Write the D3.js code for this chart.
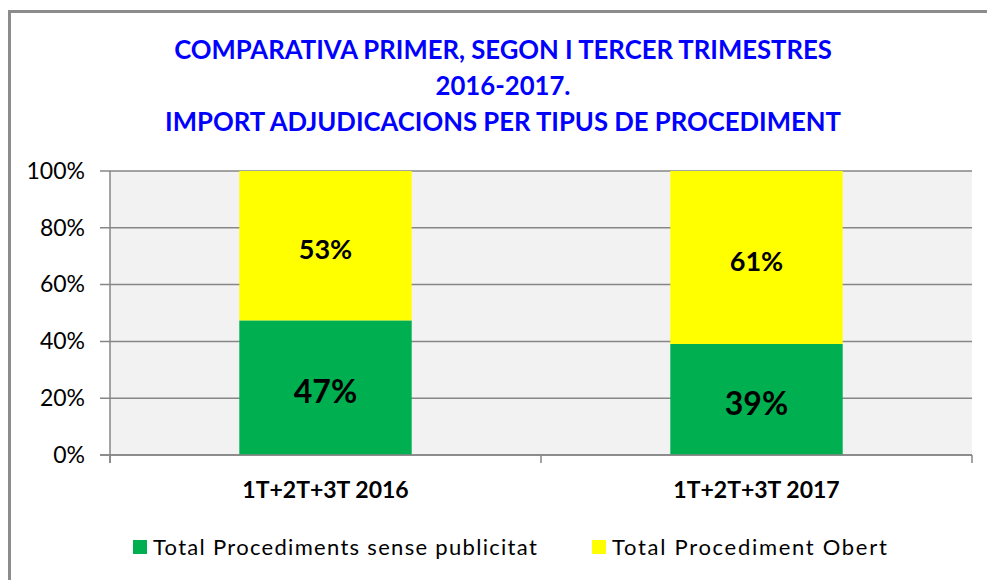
<!DOCTYPE html>
<html>
<head>
<meta charset="utf-8">
<script src="https://cdn.jsdelivr.net/npm/d3@7"></script>
<style>
  body { margin: 0; background: #fff; }
  svg { display: block; font-family: Lato, "Open Sans", sans-serif; }
</style>
</head>
<body>
<svg id="chart" width="987" height="580"></svg>
<script>
// data
const categories = ['1T+2T+3T 2016', '1T+2T+3T 2017']
const seriesNames = ['Total Procediments sense publicitat', 'Total Procediment Obert']
const sensePublicitat = [0.474, 0.391]
const obert = [0.526, 0.609]
const yTicks = [0, 0.2, 0.4, 0.6, 0.8, 1]
const titleLines = [
  'COMPARATIVA PRIMER, SEGON I TERCER TRIMESTRES',
  '2016-2017.',
  'IMPORT ADJUDICACIONS PER TIPUS DE PROCEDIMENT'
]

const colors = ['#00b050', '#ffff00']
const gridColor = '#868686'

const svg = d3.select('#chart')
const margin = { left: 110, right: 15, top: 171, bottom: 125 }
const width = 987 - margin.left - margin.right
const height = 580 - margin.top - margin.bottom

// outer chart frame (cropped at right and bottom)
svg.append('rect')
  .attr('x', 9.5).attr('y', 11.5)
  .attr('width', 1100).attr('height', 700)
  .attr('fill', 'none')
  .attr('stroke', '#8c8c8c')
  .attr('stroke-width', 3)

// title
svg.append('g')
  .selectAll('text')
  .data(titleLines)
  .join('text')
  .attr('x', 503)
  .attr('y', (d, i) => 59 + i * 36)
  .attr('text-anchor', 'middle')
  .attr('fill', '#0000ff')
  .attr('font-weight', 'bold')
  .attr('font-size', 25.7)
  .text(d => d)

const g = svg.append('g').attr('transform', `translate(${margin.left},${margin.top})`)

const x = d3.scaleBand().domain(categories).range([0, width]).paddingInner(0.6).paddingOuter(0.3)
const xOuter = d3.scaleBand().domain(categories).range([0, width])
const y = d3.scaleLinear().domain([0, 1]).range([height, 0])

g.append('rect')
  .attr('width', width).attr('height', height)
  .attr('fill', '#f2f2f2')

// gridlines
g.append('g')
  .selectAll('line')
  .data(yTicks)
  .join('line')
  .attr('x1', -10).attr('x2', width)
  .attr('y1', d => y(d)).attr('y2', d => y(d))
  .attr('stroke', gridColor)
  .attr('stroke-width', 1.5)

// stacked bars
const rows = categories.map((c, i) => ({ cat: c, a: sensePublicitat[i], b: obert[i] }))
const stacked = d3.stack().keys(['a', 'b'])(rows)

const layers = g.append('g')
  .selectAll('g')
  .data(stacked)
  .join('g')
  .attr('fill', (d, i) => colors[i])

layers.selectAll('rect')
  .data(d => d)
  .join('rect')
  .attr('x', d => x(d.data.cat))
  .attr('width', x.bandwidth())
  .attr('y', d => y(d[1]))
  .attr('height', d => y(d[0]) - y(d[1]))

// value labels
layers.each(function (layer, li) {
  d3.select(this).selectAll('text')
    .data(layer)
    .join('text')
    .attr('x', d => x(d.data.cat) + x.bandwidth() / 2)
    .attr('y', d => (y(d[0]) + y(d[1])) / 2 + 3)
    .attr('dominant-baseline', 'central')
    .attr('text-anchor', 'middle')
    .attr('fill', '#000')
    .attr('font-weight', 'bold')
    .attr('font-size', li === 0 ? 32 : 27)
    .text(d => Math.round((d[1] - d[0]) * 100) + '%')
})

// y axis
const yAxis = g.append('g')
  .call(d3.axisLeft(y).tickValues(yTicks).tickFormat(d3.format('.0%')).tickSize(0).tickPadding(25))
yAxis.select('.domain').remove()
yAxis.selectAll('text').attr('font-size', 23).attr('fill', '#000').attr('font-family', 'Lato, sans-serif')
g.append('line')
  .attr('x1', 0).attr('x2', 0).attr('y1', 0).attr('y2', height + 8)
  .attr('stroke', gridColor).attr('stroke-width', 1.5)

// x axis
g.append('line')
  .attr('x1', -10).attr('x2', width).attr('y1', height).attr('y2', height)
  .attr('stroke', gridColor).attr('stroke-width', 1.5)
g.append('g')
  .selectAll('line')
  .data([...categories.map(c => xOuter(c)), width])
  .join('line')
  .attr('x1', d => d).attr('x2', d => d)
  .attr('y1', height).attr('y2', height + 8)
  .attr('stroke', gridColor).attr('stroke-width', 1.5)

g.append('g')
  .selectAll('text')
  .data(categories)
  .join('text')
  .attr('x', d => xOuter(d) + xOuter.bandwidth() / 2)
  .attr('y', height + 43)
  .attr('text-anchor', 'middle')
  .attr('font-weight', 'bold')
  .attr('font-size', 23)
  .attr('fill', '#000')
  .text(d => d)

// legend
const legendX = [133, 592]
const legend = svg.append('g')
  .selectAll('g')
  .data(seriesNames)
  .join('g')
  .attr('transform', (d, i) => `translate(${legendX[i]},540)`)
legend.append('rect')
  .attr('width', 14).attr('height', 14)
  .attr('fill', (d, i) => colors[i])
legend.append('text')
  .attr('x', 20).attr('y', 15)
  .attr('font-size', 22)
  .attr('letter-spacing', (d, i) => i === 0 ? 1.3 : 1.7)
  .attr('fill', '#000')
  .text(d => d)
</script>
</body>
</html>
